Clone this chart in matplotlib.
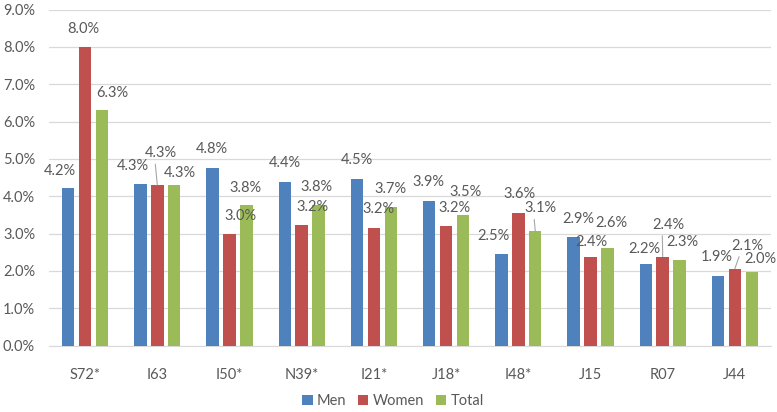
import matplotlib
matplotlib.use('Agg')
import matplotlib.pyplot as plt
import numpy as np

categories = ['S72*', 'I63', 'I50*', 'N39*', 'I21*', 'J18*', 'I48*', 'J15', 'R07', 'J44']
men = [4.21, 4.32, 4.76, 4.39, 4.46, 3.88, 2.46, 2.90, 2.18, 1.86]
women = [8.00, 4.30, 3.00, 3.24, 3.16, 3.19, 3.56, 2.38, 2.38, 2.06]
total = [6.31, 4.30, 3.76, 3.76, 3.72, 3.49, 3.06, 2.60, 2.30, 1.97]

# label offsets in pixels (dx, dy) from the top of each bar, like the hand-placed excel labels
men_off = [(-8, 17), (-7, 18), (-1, 19), (0, 19), (0, 19), (-1, 19), (-8, 18), (5, 18), (-1, 15), (-1, 19)]
women_off = [(-2, 18), (4, 32), (11, 17), (11, 18), (5, 19), (8, 18), (1, 19), (1, 15), (6, 32), (12, 23)]
total_off = [(10, 17), (6, 12), (-1, 17), (-2, 18), (0, 18), (2, 23), (5, 23), (4, 25), (3, 18), (9, 13)]
leaders = {('Women', 1), ('Total', 6), ('Women', 8), ('Women', 9)}

colors = {'Men': '#4F81BD', 'Women': '#C0504D', 'Total': '#9BBB59'}
txt = '#595959'

plt.rcParams['font.family'] = ['Lato', 'DejaVu Sans']

fig = plt.figure(figsize=(7.77, 4.12), dpi=100)
ax = fig.add_axes([49 / 777, 66.5 / 412, 722 / 777, 336 / 412])

x = np.arange(len(categories))
step = 0.235
width = 0.172

series = [('Men', men, men_off), ('Women', women, women_off), ('Total', total, total_off)]
for i, (name, vals, offs) in enumerate(series):
    xs = x + (i - 1) * step
    ax.bar(xs, vals, width, color=colors[name], label=name, zorder=3)
    for j, (xv, v) in enumerate(zip(xs, vals)):
        dx, dy = offs[j]
        props = None
        if (name, j) in leaders:
            props = dict(arrowstyle='-', color='#a6a6a6', lw=0.8,
                         shrinkA=1, shrinkB=0, relpos=(0.3, 0.0))
        ax.annotate(f'{v:.1f}%', (xv, v), xytext=(dx, dy), textcoords='offset pixels',
                    ha='center', va='center', fontsize=10.5, color=txt,
                    arrowprops=props, zorder=4)

ax.set_xlim(-0.5, len(categories) - 0.5)
ax.set_ylim(0, 9)
ax.set_yticks(np.arange(0, 9.5, 1))
ax.set_yticklabels([f'{t:.1f}%' for t in np.arange(0, 9.5, 1)])
ax.set_xticks(x)
ax.set_xticklabels(categories)
ax.tick_params(axis='both', length=0, labelsize=10.5, colors=txt)
ax.tick_params(axis='y', pad=10)
ax.tick_params(axis='x', pad=16)
ax.yaxis.grid(True, color='#d9d9d9', lw=0.9, zorder=0)
for s in ['top', 'right', 'left']:
    ax.spines[s].set_visible(False)
ax.spines['bottom'].set_color('#d9d9d9')
ax.spines['bottom'].set_zorder(2)

ax.legend(loc='center', bbox_to_anchor=(393 / 777, 1 - 401 / 412), bbox_transform=fig.transFigure,
          ncol=3, frameon=False, fontsize=10.5, handlelength=0.7, handleheight=0.7,
          handletextpad=0.3, columnspacing=0.8, labelcolor=txt)

fig.savefig('out.png', dpi=100)
